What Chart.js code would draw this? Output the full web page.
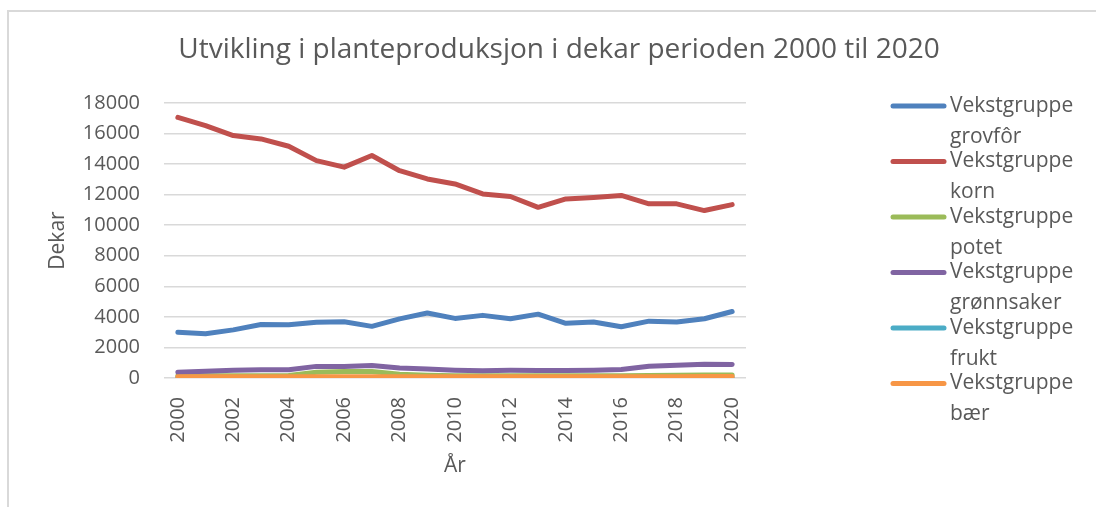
<!DOCTYPE html>
<html>
<head>
<meta charset="utf-8">
<script src="https://cdn.jsdelivr.net/npm/chart.js@4/dist/chart.umd.min.js"></script>
<style>
  body { margin: 0; background: #fff; }
  #frame { position: absolute; left: 7px; top: 10px; width: 1200px; height: 600px;
           border-left: 2px solid #d9d9d9; border-top: 2px solid #d9d9d9; }
  #plot { position: absolute; left: 0; top: 0; }
</style>
</head>
<body>
<div id="frame"></div>
<canvas id="plot" width="1096" height="507"></canvas>
<script>
// år på x-aksen
const years = ['2000', '2001', '2002', '2003', '2004', '2005', '2006', '2007', '2008', '2009', '2010',
               '2011', '2012', '2013', '2014', '2015', '2016', '2017', '2018', '2019', '2020'];

// dekar per vekstgruppe (lest av figuren)
const grovfor = [3000, 2900, 3150, 3500, 3480, 3650, 3680, 3380, 3870, 4250, 3900,
                 4100, 3880, 4180, 3580, 3660, 3350, 3720, 3660, 3880, 4350];
const korn = [17060, 16520, 15870, 15650, 15170, 14230, 13800, 14560, 13570, 13030, 12700,
              12050, 11880, 11170, 11720, 11820, 11950, 11400, 11400, 10960, 11350];
const potet = [140, 140, 150, 150, 160, 380, 420, 430, 250, 180, 150,
               140, 140, 140, 140, 140, 150, 170, 180, 190, 190];
const gronnsaker = [370, 440, 500, 540, 540, 760, 750, 820, 650, 590, 510,
                    470, 500, 490, 490, 510, 550, 770, 840, 900, 880];
const frukt = [10, 10, 10, 10, 10, 10, 10, 10, 10, 10, 10,
               10, 10, 10, 10, 10, 10, 10, 10, 10, 10];
const baer = [80, 80, 80, 80, 80, 90, 90, 90, 90, 90, 90,
              90, 90, 90, 90, 90, 90, 90, 90, 100, 100];

const yTicks = [0, 2000, 4000, 6000, 8000, 10000, 12000, 14000, 16000, 18000];

const legendLabels = [
    ['Vekstgruppe', 'grovfôr'],
    ['Vekstgruppe', 'korn'],
    ['Vekstgruppe', 'potet'],
    ['Vekstgruppe', 'grønnsaker'],
    ['Vekstgruppe', 'frukt'],
    ['Vekstgruppe', 'bær']
];
const colors = ['#4f81bd', '#c0504d', '#9bbb59', '#8064a2', '#4bacc6', '#f79646'];
const series = [grovfor, korn, potet, gronnsaker, frukt, baer];

const textColor = '#595959';
const fontFamily = "'Open Sans', sans-serif";

// tittel og forklaring tegnes selv
const extras = {
    id: 'extras',
    afterDraw(chart) {
        const ctx = chart.ctx;
        ctx.save();
        ctx.fillStyle = textColor;
        ctx.textBaseline = 'middle';
        ctx.font = "28px " + fontFamily;
        ctx.textAlign = 'center';
        ctx.fillText('Utvikling i planteproduksjon i dekar perioden 2000 til 2020', 559, 50);

        ctx.font = "21px " + fontFamily;
        ctx.textAlign = 'left';
        legendLabels.forEach((lbl, i) => {
            const y = 106 + i * 55.5;
            ctx.strokeStyle = colors[i];
            ctx.lineWidth = 5;
            ctx.lineCap = 'round';
            ctx.beginPath();
            ctx.moveTo(893, y);
            ctx.lineTo(944, y);
            ctx.stroke();
            ctx.fillText(lbl[0], 950, y);
            ctx.fillText(lbl[1], 950, y + 31);
        });
        ctx.restore();
    }
};

const ctx = document.getElementById('plot').getContext('2d');
new Chart(ctx, {
    type: 'line',
    data: {
        labels: years,
        datasets: series.map((d, i) => ({
            label: legendLabels[i].join(' '),
            data: d,
            borderColor: colors[i],
            backgroundColor: colors[i],
            borderWidth: 5,
            borderCapStyle: 'round',
            borderJoinStyle: 'round',
            pointRadius: 0,
            tension: 0,
            order: 6 - i
        }))
    },
    options: {
        responsive: false,
        animation: false,
        devicePixelRatio: 1,
        layout: { padding: { left: 0, top: 103, right: 350, bottom: 0 } },
        plugins: {
            legend: { display: false },
            tooltip: { enabled: false }
        },
        scales: {
            x: {
                offset: true,
                grid: { display: false },
                border: { display: false },
                ticks: {
                    autoSkip: false,
                    maxRotation: 90,
                    minRotation: 90,
                    padding: 11,
                    color: textColor,
                    font: { family: fontFamily, size: 20 },
                    callback: function (val, idx) {
                        return idx % 2 === 0 ? years[idx] : null;
                    }
                },
                title: {
                    display: true,
                    text: 'År',
                    color: textColor,
                    font: { family: fontFamily, size: 21 },
                    padding: { top: 0, bottom: 28 }
                },
                afterFit(scale) { scale.height = 129; }
            },
            y: {
                min: 0,
                max: 18000,
                afterBuildTicks(scale) { scale.ticks = yTicks.map(v => ({ value: v })); },
                grid: { color: '#d9d9d9', lineWidth: 1.5, drawTicks: false },
                border: { display: false },
                ticks: {
                    padding: 24,
                    color: textColor,
                    font: { family: fontFamily, size: 20 },
                    callback: v => String(v)
                },
                title: {
                    display: true,
                    text: 'Dekar',
                    color: textColor,
                    font: { family: fontFamily, size: 21 },
                    padding: { top: 45, bottom: 0 }
                },
                afterFit(scale) { scale.width = 164; }
            }
        }
    },
    plugins: [extras]
});
</script>
</body>
</html>
